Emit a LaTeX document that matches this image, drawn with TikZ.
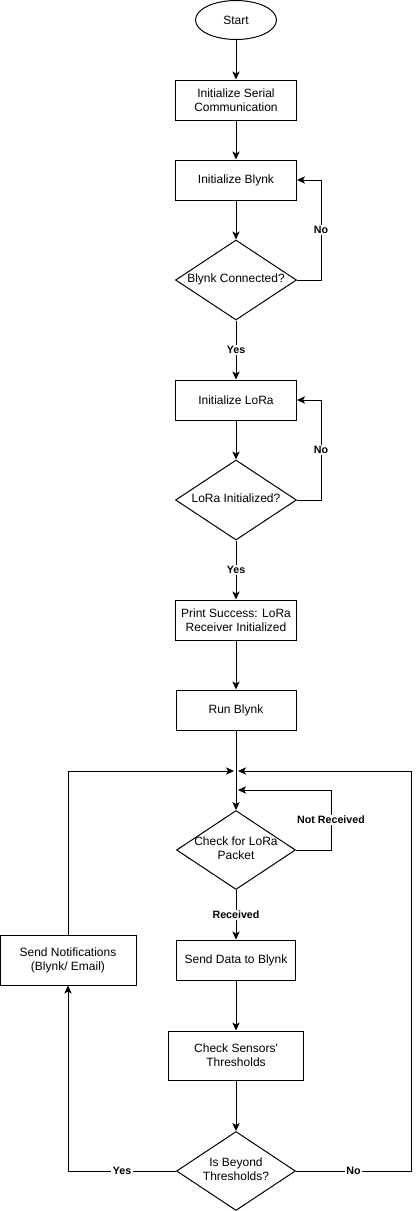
\documentclass[tikz,border=0pt]{standalone}
\usepackage{fontspec}
\setmainfont{Liberation Sans}
\usetikzlibrary{shapes.geometric,arrows.meta}

\newcommand{\diatext}[1]{\makebox[0pt]{\begin{tabular}{@{}c@{}}#1\end{tabular}}}

\tikzset{every picture/.style={line width=0.75pt},
  procbox/.style={draw, rectangle, align=center, inner sep=0pt,
    minimum width=121*0.75pt, minimum height=40*0.75pt,
    font=\fontsize{9}{10.5}\selectfont},
  startnode/.style={draw, ellipse, inner sep=0pt,
    minimum width=81*0.75pt, minimum height=39*0.75pt,
    font=\fontsize{9}{10.5}\selectfont},
  decision/.style={draw, diamond, inner sep=0pt,
    minimum width=121*0.75pt, minimum height=80*0.75pt,
    font=\fontsize{9}{10.5}\selectfont},
  flow/.style={-{Stealth[length=6pt,width=5.5pt,inset=1.5pt]}},
  edgelabel/.style={fill=white, inner sep=1pt, font=\fontsize{8}{9}\selectfont\bfseries}
}

\begin{document}
\begin{tikzpicture}[x=0.75pt,y=0.75pt,yscale=-1,xscale=1]
\useasboundingbox (0,0) rectangle (420,1211);

% Nodes
\node [startnode] (start) at (236,20) {Start};
\node [procbox] (serial) at (236,100) {Initialize Serial\\Communication};
\node [procbox] (blynk) at (236,180) {Initialize Blynk};
\node [decision] (bconn) at (236,280) {\diatext{Blynk Connected?}};
\node [procbox] (lora) at (236,400) {Initialize LoRa};
\node [decision] (lconn) at (236,500) {\diatext{LoRa Initialized?}};
\node [procbox] (success) at (236,620) {Print Success: LoRa\\Receiver Initialized};
\node [procbox, minimum width=120*0.75pt] (run) at (236,710) {Run Blynk};
\node [decision, minimum width=119*0.75pt, minimum height=79*0.75pt] (check) at (236,850) {\diatext{Check for LoRa\\Packet}};
\node [procbox, minimum width=119*0.75pt] (senddata) at (236,960) {Send Data to Blynk};
\node [procbox, minimum width=135*0.75pt, minimum height=49*0.75pt] (sensors) at (236,1055.5) {Check Sensors\textquotesingle\\Thresholds};
\node [decision, minimum width=119*0.75pt, minimum height=79*0.75pt] (beyond) at (236,1171) {\diatext{Is Beyond\\Thresholds?}};
\node [procbox, minimum width=136*0.75pt, minimum height=50*0.75pt] (notify) at (68,960) {Send Notifications\\(Blynk/ Email)};

% Junction points
\coordinate (jleft) at (234,771);
\coordinate (jright) at (238,771);
\coordinate (jcheck) at (238,790);

% Main flow
\draw [flow] (start) -- (serial);
\draw [flow] (serial) -- (blynk);
\draw [flow] (blynk) -- (bconn);
\draw [flow] (bconn) -- node [edgelabel] {Yes} (lora);
\draw [flow] (lora) -- (lconn);
\draw [flow] (lconn) -- node [edgelabel] {Yes} (success);
\draw [flow] (success) -- (run);
\draw [flow] (run) -- (check);
\draw [flow] (check) -- node [edgelabel] {Received} (senddata);
\draw [flow] (senddata) -- (sensors);
\draw [flow] (sensors) -- (beyond);

% Loops
\draw [flow] (bconn.east) -- (321,280) -- node [edgelabel] {No} (321,180) -- (blynk.east);
\draw [flow] (lconn.east) -- (321,500) -- node [edgelabel] {No} (321,400) -- (lora.east);
\draw [flow] (check.east) -- (331,850) -- node [edgelabel] {Not Received} (331,790) -- (jcheck);
\draw [flow] (beyond.west) -- node [edgelabel] {Yes} (68,1171) -- (notify.south);
\draw [flow] (notify.north) -- (68,771) -- (jleft);
\draw [flow] (beyond.east) -- node [edgelabel] {No} (411,1171) -- (411,771) -- (jright);

\end{tikzpicture}
\end{document}
